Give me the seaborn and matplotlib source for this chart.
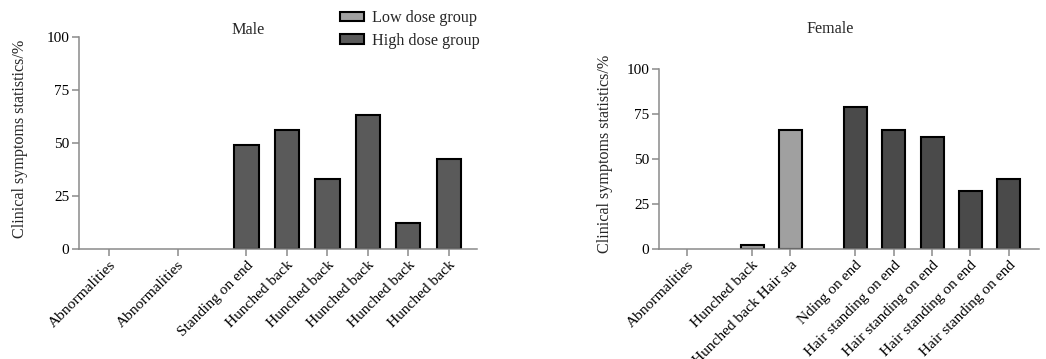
import matplotlib
matplotlib.use("Agg")
import matplotlib.pyplot as plt
import matplotlib.patches as mpatches
import pandas as pd
import seaborn as sns

# data
male_labels = ["Abnormalities", "Abnormalities", "Standing on end", "Hunched back",
               "Hunched back", "Hunched back", "Hunched back", "Hunched back"]
male_values = [0, 0, 49, 56, 33, 63, 12.5, 42.5]
male_groups = ["High dose group"] * 8

female_labels = ["Abnormalities", "Hunched back", "Hunched back Hair sta", "Nding on end",
                 "Hair standing on end", "Hair standing on end", "Hair standing on end",
                 "Hair standing on end"]
female_values = [0, 2.5, 66, 79, 66, 62.5, 32.5, 39]
female_groups = ["Low dose group", "Low dose group", "Low dose group", "High dose group",
                 "High dose group", "High dose group", "High dose group", "High dose group"]

yticks = [0, 25, 50, 75, 100]

# layout: GraphPad-style slot positions with wider gaps
male_pos = [0, 1.7, 3.4, 4.4, 5.4, 6.4, 7.4, 8.4]
female_pos = [0, 1.7, 2.7, 4.4, 5.4, 6.4, 7.4, 8.4]

LOW = "#a0a0a0"
HIGH = "#5a5a5a"
HIGH_F = "#4a4a4a"
SPINE = "#8a8a8a"
FS = 11.6

sns.set_theme(style="ticks")
plt.rcParams["font.family"] = ["Liberation Serif", "DejaVu Serif"]
plt.rcParams["font.size"] = FS

fig = plt.figure(figsize=(10.46, 3.59), dpi=100)
ax_m = fig.add_axes([0.0755, 0.3064, 0.381, 0.5905])
ax_f = fig.add_axes([0.630, 0.3064, 0.3633, 0.5014])


def draw_panel(ax, pos, labels, values, groups, palette, xlim):
    df = pd.DataFrame({"pos": pos, "value": values, "group": groups})
    sns.barplot(data=df, x="pos", y="value", hue="group", palette=palette,
                native_scale=True, dodge=False, width=0.6, edgecolor="black",
                linewidth=1.5, legend=False, ax=ax)
    # empty bars show nothing in the original
    for p in ax.patches:
        if p.get_height() == 0:
            p.set_linewidth(0)
    ax.set_xlim(*xlim)
    ax.set_ylim(0, 100)
    ax.set_yticks(yticks)
    ax.set_yticklabels([str(t) for t in yticks], fontsize=11)
    ax.set_xticks(pos)
    ax.set_xticklabels(labels, rotation=45, ha="right", rotation_mode="anchor", fontsize=11.1)
    ax.set_xlabel("")
    ax.set_ylabel("Clinical symptoms statistics/%", fontsize=FS)
    sns.despine(ax=ax)
    for side in ("left", "bottom"):
        ax.spines[side].set_color(SPINE)
        ax.spines[side].set_linewidth(1.1)
    ax.tick_params(axis="both", colors=SPINE, length=5, width=1.1, labelcolor="black", pad=2)


draw_panel(ax_m, male_pos, male_labels, male_values, male_groups,
           {"Low dose group": LOW, "High dose group": HIGH}, (-0.74, 9.11))
draw_panel(ax_f, female_pos, female_labels, female_values, female_groups,
           {"Low dose group": LOW, "High dose group": HIGH_F}, (-0.73, 9.19))

ax_m.yaxis.set_label_coords(-0.127, 0.52)
ax_f.yaxis.set_label_coords(-0.121, 0.53)

fig.text(248 / 1046, 1 - 30 / 359, "Male", ha="center", va="center", fontsize=FS)
fig.text(830 / 1046, 1 - 29 / 359, "Female", ha="center", va="center", fontsize=FS)

handles = [mpatches.Patch(facecolor=LOW, edgecolor="black", linewidth=1.5, label="Low dose group"),
           mpatches.Patch(facecolor=HIGH, edgecolor="black", linewidth=1.5, label="High dose group")]
fig.legend(handles=handles, loc="upper left", bbox_to_anchor=(340 / 1046, 1 - 10 / 359),
           frameon=False, fontsize=FS, handlelength=1.5, handleheight=0.5,
           handletextpad=0.5, labelspacing=0.42, borderpad=0, borderaxespad=0)

fig.savefig("out.png", dpi=100)
